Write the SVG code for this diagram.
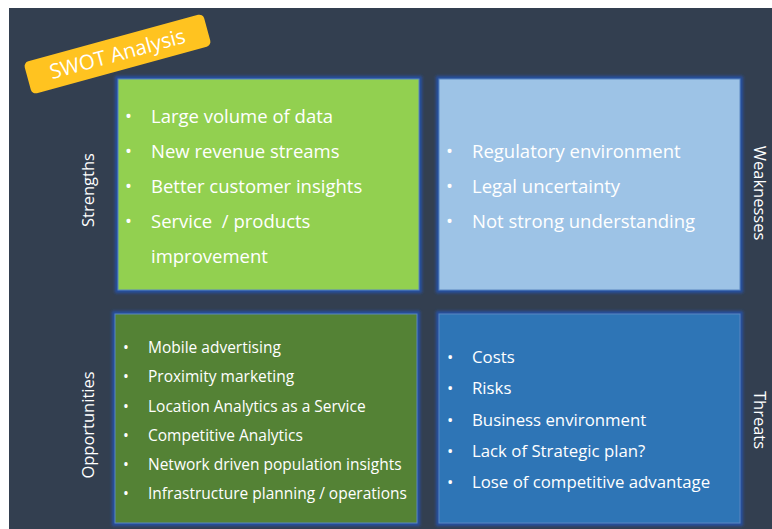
<svg xmlns="http://www.w3.org/2000/svg" width="772" height="529" viewBox="0 0 772 529">
<defs>
<filter id="glow" x="-5%" y="-5%" width="110%" height="110%">
<feGaussianBlur stdDeviation="1.6"/>
</filter>
<style>
.t{font-family:"Open Sans","Noto Sans","Liberation Sans",sans-serif;fill:#ffffff}
.s{font-size:18.5px}
.o{font-size:15.5px}
.h{font-size:16.8px}
.side{font-size:16.5px;text-anchor:middle}
.box{stroke:#5B87C0;stroke-width:1}
.halo{fill:none;stroke:#2550A0;stroke-width:6;filter:url(#glow)}
</style>
</defs>
<rect x="0" y="0" width="772" height="529" fill="#ffffff"/>
<rect x="9" y="8" width="763" height="521" fill="#333F50"/>

<g id="badge" transform="translate(117.5 54) rotate(-15.3)">
<rect x="-93" y="-16.5" width="186" height="33" rx="5" fill="#FFC320"/>
<text class="t" x="0" y="7" font-size="20.5" text-anchor="middle">SWOT Analysis</text>
</g>

<g id="strengths">
<rect class="halo" x="118" y="79" width="301" height="211"/>
<rect class="box" x="118" y="79" width="301" height="211" fill="#92D050"/>
<g class="t s">
<text x="125" y="123">•</text><text x="151" y="123">Large volume of data</text>
<text x="125" y="158">•</text><text x="151" y="158">New revenue streams</text>
<text x="125" y="193">•</text><text x="151" y="193">Better customer insights</text>
<text x="125" y="228">•</text><text x="151" y="228" xml:space="preserve">Service  / products</text>
<text x="151" y="263">improvement</text>
</g>
<text class="t side" transform="translate(94 190) rotate(-90)">Strengths</text>
</g>

<g id="weaknesses">
<rect class="halo" x="439" y="79" width="301" height="211"/>
<rect class="box" x="439" y="79" width="301" height="211" fill="#9DC3E6"/>
<g class="t s">
<text x="446" y="158">•</text><text x="472" y="158">Regulatory environment</text>
<text x="446" y="193">•</text><text x="472" y="193">Legal uncertainty</text>
<text x="446" y="228">•</text><text x="472" y="228">Not strong understanding</text>
</g>
<text class="t side" transform="translate(754 193) rotate(90)">Weaknesses</text>
</g>

<g id="opportunities">
<rect class="halo" x="115" y="314" width="302" height="209"/>
<rect class="box" x="115" y="314" width="302" height="209" fill="#548235"/>
<g class="t o">
<text x="123" y="353">•</text><text x="148" y="353">Mobile advertising</text>
<text x="123" y="382">•</text><text x="148" y="382">Proximity marketing</text>
<text x="123" y="411.5">•</text><text x="148" y="411.5">Location Analytics as a Service</text>
<text x="123" y="441">•</text><text x="148" y="441">Competitive Analytics</text>
<text x="123" y="470">•</text><text x="148" y="470">Network driven population insights</text>
<text x="123" y="499">•</text><text x="148" y="499">Infrastructure planning / operations</text>
</g>
<text class="t side" transform="translate(94 425) rotate(-90)">Opportunities</text>
</g>

<g id="threats">
<rect class="halo" x="439" y="314" width="301" height="209"/>
<rect class="box" x="439" y="314" width="301" height="209" fill="#2E75B6"/>
<g class="t h">
<text x="447" y="363">•</text><text x="472" y="363">Costs</text>
<text x="447" y="394">•</text><text x="472" y="394">Risks</text>
<text x="447" y="426">•</text><text x="472" y="426">Business environment</text>
<text x="447" y="457">•</text><text x="472" y="457">Lack of Strategic plan?</text>
<text x="447" y="488">•</text><text x="472" y="488">Lose of competitive advantage</text>
</g>
<text class="t side" transform="translate(754 420) rotate(90)">Threats</text>
</g>

<g id="connectors"></g>
</svg>
